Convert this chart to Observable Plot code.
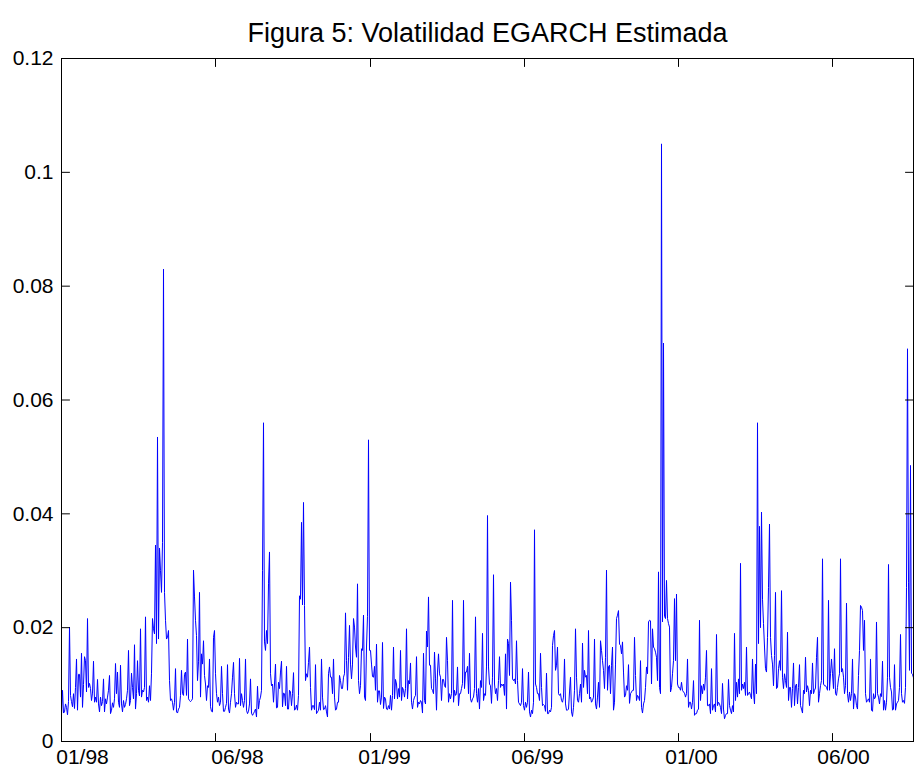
<!DOCTYPE html>
<html><head><meta charset="utf-8">
<script src="https://cdn.jsdelivr.net/npm/d3@7"></script>
<script src="https://cdn.jsdelivr.net/npm/@observablehq/plot@0.6"></script>
<style>
html,body{margin:0;padding:0;background:#fff;}
#chart svg{display:block;}
</style></head><body><div id="chart"></div>
<script>
const title = "Figura 5: Volatilidad EGARCH Estimada";

const vol1998a = [
0.0048,0.0090,0.0050,0.0052,0.0066,0.0060,0.0047,0.0070,0.0201,0.0081,
0.0070,0.0061,0.0084,0.0058,0.0095,0.0145,0.0055,0.0118,0.0118,0.0078,
0.0155,0.0060,0.0100,0.0149,0.0142,0.0087,0.0216,0.0095,0.0102,0.0093,
0.0072,0.0085,0.0141,0.0069,0.0078,0.0069,0.0109,0.0066,0.0052,0.0078,
0.0063,0.0070,0.0110,0.0052,0.0075,0.0066,0.0078,0.0090,0.0116,0.0049,
0.0055,0.0068,0.0060,0.0075,0.0137,0.0084,0.0122,0.0069,0.0060,0.0134,
0.0066,0.0052,0.0072,0.0060,0.0065,0.0075,0.0090,0.0160,0.0063,0.0072,
0.0120,0.0095,0.0075,0.0170,0.0057,0.0084,0.0142,0.0090,0.0080,0.0198,
0.0078,0.0090,0.0087,0.0095,0.0219,0.0072,0.0078,0.0069,0.0098,0.0072,
0.0120,0.0216,0.0198,0.0189,0.0345,0.0172,0.0535,0.0180,0.0340,0.0300,
0.0262,0.0350,0.0830,0.0262];
const vol1998b = [
0.0213,0.0180,0.0183,0.0195,0.0107,0.0072,0.0075,0.0069,0.0055,0.0069,
0.0128,0.0052,0.0050,0.0057,0.0060,0.0081,0.0125,0.0084,0.0081,0.0118,
0.0122,0.0081,0.0180,0.0075,0.0072,0.0070,0.0072,0.0075,0.0301,0.0254,
0.0213,0.0186,0.0107,0.0140,0.0262,0.0078,0.0154,0.0136,0.0177,0.0116,
0.0101,0.0072,0.0098,0.0095,0.0145,0.0061,0.0053,0.0052,0.0183,0.0195,
0.0119,0.0084,0.0069,0.0078,0.0063,0.0069,0.0132,0.0084,0.0053,0.0053,
0.0060,0.0067,0.0135,0.0057,0.0050,0.0069,0.0084,0.0113,0.0139,0.0084,
0.0060,0.0069,0.0066,0.0066,0.0146,0.0063,0.0084,0.0072,0.0060,0.0072,
0.0145,0.0055,0.0049,0.0053,0.0066,0.0110,0.0050,0.0046,0.0049,0.0053,
0.0057,0.0043,0.0097,0.0057,0.0072,0.0078,0.0090,0.0300,0.0560,0.0175];
const vol1998c = [
0.0160,0.0195,0.0172,0.0277,0.0333,0.0119,0.0098,0.0101,0.0069,0.0101,
0.0136,0.0059,0.0060,0.0104,0.0093,0.0122,0.0141,0.0061,0.0085,0.0084,
0.0063,0.0132,0.0057,0.0057,0.0090,0.0087,0.0063,0.0084,0.0121,0.0055,
0.0057,0.0064,0.0055,0.0081,0.0256,0.0250,0.0385,0.0240,0.0420,0.0239,
0.0107,0.0119,0.0113,0.0139,0.0166,0.0095,0.0055,0.0063,0.0063,0.0056,
0.0135,0.0049,0.0052,0.0055,0.0069,0.0055,0.0145,0.0078,0.0056,0.0057,
0.0063,0.0052,0.0043,0.0119,0.0131,0.0113,0.0113,0.0084,0.0145,0.0078,
0.0055,0.0057,0.0069,0.0069,0.0116,0.0107,0.0093,0.0093,0.0113,0.0119,
0.0226,0.0142,0.0090,0.0148,0.0204,0.0136,0.0110,0.0136,0.0216,0.0201,
0.0166,0.0148,0.0277,0.0107,0.0084,0.0098,0.0163,0.0160,0.0222,0.0078,
0.0072,0.0166,0.0220,0.0530,0.0160];
const vol1999a = [
0.0160,0.0136,0.0114,0.0113,0.0132,0.0090,0.0171,0.0069,0.0089,0.0089,
0.0065,0.0078,0.0174,0.0058,0.0078,0.0075,0.0057,0.0056,0.0063,0.0057,
0.0081,0.0055,0.0081,0.0166,0.0075,0.0109,0.0101,0.0075,0.0093,0.0078,
0.0160,0.0072,0.0095,0.0090,0.0078,0.0093,0.0198,0.0075,0.0107,0.0101,
0.0138,0.0069,0.0057,0.0072,0.0078,0.0081,0.0149,0.0060,0.0069,0.0066,
0.0072,0.0069,0.0050,0.0155,0.0072,0.0066,0.0194,0.0166,0.0254,0.0134,
0.0134,0.0093,0.0090,0.0084,0.0157,0.0110,0.0055,0.0122,0.0154,0.0119,
0.0113,0.0072,0.0109,0.0109,0.0098,0.0095,0.0183,0.0142,0.0069,0.0084,
0.0075,0.0084,0.0248,0.0069,0.0090,0.0081,0.0084,0.0131,0.0063,0.0084,
0.0084,0.0093,0.0102,0.0248,0.0093,0.0122,0.0122,0.0132,0.0084,0.0155,
0.0075,0.0069,0.0075,0.0078,0.0093];
const vol1999b = [
0.0219,0.0084,0.0069,0.0093,0.0057,0.0107,0.0095,0.0190,0.0072,0.0084,
0.0081,0.0131,0.0397,0.0131,0.0101,0.0098,0.0067,0.0113,0.0293,0.0101,
0.0084,0.0093,0.0072,0.0107,0.0149,0.0095,0.0101,0.0098,0.0101,0.0081,
0.0154,0.0057,0.0180,0.0172,0.0116,0.0280,0.0213,0.0110,0.0107,0.0110,
0.0101,0.0177,0.0107,0.0069,0.0066,0.0063,0.0069,0.0128,0.0063,0.0055,
0.0069,0.0060,0.0069,0.0122,0.0052,0.0043,0.0055,0.0049,0.0069,0.0372,
0.0101,0.0095,0.0084,0.0084,0.0072,0.0155,0.0095,0.0063,0.0065,0.0063,
0.0053,0.0120,0.0049,0.0049,0.0055,0.0052,0.0060,0.0169,0.0186,0.0195,
0.0125,0.0134,0.0166,0.0084,0.0081,0.0084,0.0072,0.0069,0.0078,0.0145,
0.0066,0.0055,0.0055,0.0057,0.0087,0.0113,0.0052,0.0044,0.0060,0.0090,
0.0198,0.0113,0.0072,0.0069,0.0084];
const vol1999c = [
0.0101,0.0069,0.0173,0.0095,0.0125,0.0113,0.0116,0.0084,0.0195,0.0075,
0.0078,0.0069,0.0072,0.0078,0.0180,0.0066,0.0057,0.0078,0.0104,0.0060,
0.0177,0.0160,0.0142,0.0125,0.0093,0.0148,0.0301,0.0090,0.0131,0.0134,
0.0084,0.0134,0.0166,0.0055,0.0069,0.0136,0.0216,0.0222,0.0230,0.0171,
0.0169,0.0154,0.0175,0.0122,0.0078,0.0081,0.0098,0.0090,0.0135,0.0067,
0.0084,0.0087,0.0090,0.0090,0.0183,0.0116,0.0072,0.0081,0.0078,0.0072,
0.0142,0.0060,0.0050,0.0066,0.0072,0.0095,0.0131,0.0119,0.0210,0.0213,
0.0212,0.0101,0.0198,0.0166,0.0163,0.0157,0.0148,0.0107,0.0298,0.0095,
0.0084,0.1050,0.0210,0.0700,0.0220,0.0216,0.0283,0.0216,0.0207,0.0201,
0.0087,0.0095,0.0119,0.0142,0.0251,0.0142,0.0259,0.0101,0.0095,0.0095,
0.0090,0.0104,0.0090,0.0087,0.0085];
const vol2000a = [
0.0078,0.0084,0.0145,0.0060,0.0069,0.0069,0.0057,0.0069,0.0107,0.0046,
0.0049,0.0049,0.0055,0.0057,0.0213,0.0072,0.0098,0.0084,0.0101,0.0090,
0.0113,0.0160,0.0063,0.0063,0.0066,0.0049,0.0128,0.0055,0.0063,0.0066,
0.0052,0.0188,0.0063,0.0069,0.0066,0.0060,0.0049,0.0102,0.0057,0.0040,
0.0046,0.0049,0.0049,0.0109,0.0063,0.0055,0.0049,0.0063,0.0052,0.0190,
0.0072,0.0104,0.0078,0.0110,0.0084,0.0313,0.0090,0.0101,0.0093,0.0104,
0.0081,0.0166,0.0081,0.0084,0.0087,0.0081,0.0075,0.0145,0.0087,0.0066,
0.0136,0.0084,0.0560,0.0172,0.0378,0.0200,0.0403,0.0250,0.0207,0.0166,
0.0128,0.0122,0.0183,0.0271,0.0382,0.0183,0.0151,0.0136,0.0098,0.0151,
0.0262,0.0093,0.0095,0.0128,0.0142,0.0125,0.0265,0.0113,0.0093,0.0119,
0.0107,0.0095,0.0192,0.0072,0.0095];
const vol2000b = [
0.0095,0.0060,0.0093,0.0138,0.0063,0.0098,0.0101,0.0066,0.0095,0.0135,
0.0063,0.0057,0.0050,0.0090,0.0084,0.0148,0.0087,0.0098,0.0090,0.0063,
0.0090,0.0084,0.0138,0.0084,0.0090,0.0094,0.0148,0.0183,0.0069,0.0084,
0.0098,0.0107,0.0321,0.0101,0.0098,0.0098,0.0095,0.0090,0.0248,0.0090,
0.0119,0.0145,0.0119,0.0093,0.0163,0.0084,0.0081,0.0095,0.0110,0.0119,
0.0321,0.0122,0.0128,0.0113,0.0084,0.0098,0.0243,0.0084,0.0069,0.0087,
0.0072,0.0084,0.0145,0.0057,0.0084,0.0078,0.0063,0.0057,0.0116,0.0160,
0.0239,0.0236,0.0230,0.0160,0.0213,0.0084,0.0069,0.0072,0.0075,0.0069,
0.0145,0.0055,0.0053,0.0084,0.0075,0.0078,0.0210,0.0084,0.0078,0.0066,
0.0084,0.0079,0.0141,0.0055,0.0072,0.0055,0.0069,0.0113,0.0311,0.0113,
0.0095,0.0087,0.0055,0.0057,0.0135,0.0055,0.0066,0.0069,0.0072,0.0095,
0.0188,0.0084,0.0069,0.0072,0.0067,0.0095,0.0271,0.0690,0.0280,0.0125,
0.0485,0.0120,0.0118,0.0112];

const volatility = [].concat(vol1998a, vol1998b, vol1998c, vol1999a, vol1999b, vol1999c, vol2000a, vol2000b);

// Tick positions (observation index), label positions and labels
const xTickIndex = [0, 154, 309, 463, 617, 771];
const xLabelIndex = [21, 176, 323, 476, 630, 782];
const xTickLabels = ["01/98", "06/98", "01/99", "06/99", "01/00", "06/00"];
const yTicks = [0, 0.02, 0.04, 0.06, 0.08, 0.1, 0.12];
const yTickLabels = ["0", "0.02", "0.04", "0.06", "0.08", "0.1", "0.12"];

const data = volatility.map((v, i) => ({i, v}));
const lastIndex = volatility.length - 1;
const yMin = yTicks[0], yMax = yTicks[yTicks.length - 1];

const tickShape = {draw(context, l) { context.moveTo(0, 0); context.lineTo(0, -l); }};
const tickOpts = {length: 8, anchor: "start", shape: tickShape, stroke: "black", strokeWidth: 1};

const chart = Plot.plot({
  width: 915,
  height: 771,
  marginLeft: 61,
  marginRight: 2,
  marginTop: 58,
  marginBottom: 30,
  style: {fontFamily: "'Liberation Sans', Arial, Helvetica, sans-serif", background: "#fff", color: "#000"},
  x: {domain: [0, lastIndex]},
  y: {domain: [yMin, yMax]},
  marks: [
    Plot.line(data, {x: "i", y: "v", stroke: "#0000ff", strokeWidth: 1}),
    Plot.frame({stroke: "black", strokeWidth: 1}),
    Plot.vector(xTickIndex, {x: d => d, y: () => yMin, rotate: 0, ...tickOpts}),
    Plot.vector(xTickIndex, {x: d => d, y: () => yMax, rotate: 180, ...tickOpts}),
    Plot.vector(yTicks, {x: () => 0, y: d => d, rotate: 90, ...tickOpts}),
    Plot.vector(yTicks, {x: () => lastIndex, y: d => d, rotate: -90, ...tickOpts}),
    Plot.axisX(xLabelIndex, {tickSize: 0, tickPadding: 8, fontSize: 21,
      tickFormat: d => xTickLabels[xLabelIndex.indexOf(d)], label: null}),
    Plot.axisY(yTicks, {tickSize: 0, tickPadding: 8, fontSize: 21,
      tickFormat: d => yTickLabels[yTicks.indexOf(d)], label: null}),
    Plot.text([title], {frameAnchor: "top", lineAnchor: "middle", dy: -25, fontSize: 27, text: d => d, fill: "#000"})
  ]
});
document.getElementById("chart").appendChild(chart);
</script></body></html>
